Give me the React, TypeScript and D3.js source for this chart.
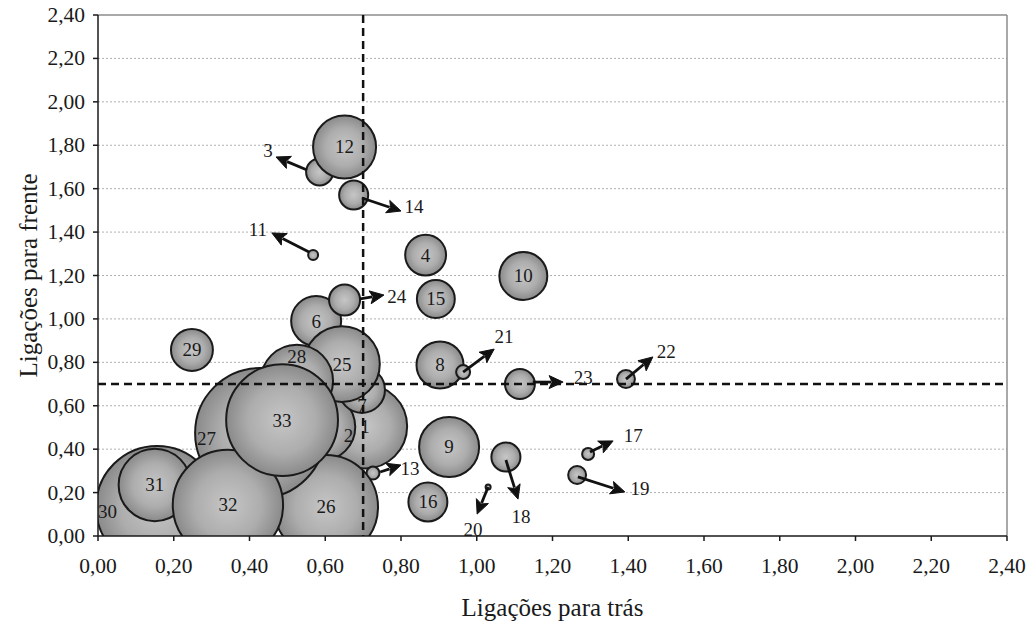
import React from 'react';
import * as d3 from 'd3';

// ---- data ----
const sectorIds = [1, 2, 3, 4, 6, 7, 8, 9, 10, 11, 12, 13, 14, 15, 16, 17, 18, 19, 20, 21, 22, 23, 24, 25, 26, 27, 28, 29, 30, 31, 32, 33];
const backwardLinks = [0.705, 0.590, 0.585, 0.865, 0.576, 0.697, 0.903, 0.927, 1.123, 0.568, 0.651, 0.726, 0.675, 0.892, 0.871, 1.294, 1.077, 1.265, 1.030, 0.964, 1.394, 1.114, 0.651, 0.644, 0.602, 0.428, 0.525, 0.248, 0.156, 0.150, 0.343, 0.486];
const forwardLinks = [0.505, 0.502, 1.677, 1.294, 0.990, 0.673, 0.788, 0.410, 1.198, 1.294, 1.792, 0.290, 1.571, 1.092, 0.157, 0.378, 0.364, 0.281, 0.226, 0.755, 0.723, 0.700, 1.087, 0.792, 0.134, 0.474, 0.714, 0.857, 0.134, 0.235, 0.143, 0.534];
const bubbleSizes = [4.2, 2.7, 0.43, 0.99, 1.48, 1.25, 1.31, 2.13, 1.36, 0.059, 2.35, 0.1, 0.5, 0.85, 0.9, 0.085, 0.5, 0.19, 0.015, 0.116, 0.19, 0.53, 0.57, 3.4, 6.4, 10.0, 3.1, 1.04, 8.8, 3.1, 7.2, 7.4];
// label placement on the bubble: c = centre, l = left, r = right, t = top, b = bottom, n = none (arrow label)
const labelPlacement = ['c', 'r', 'n', 'c', 'c', 'b', 'c', 'c', 'c', 'n', 'c', 'n', 'n', 'c', 'c', 'n', 'n', 'n', 'n', 'n', 'n', 'n', 'n', 'c', 'c', 'l', 't', 'c', 'l', 'c', 'c', 'c'];

// arrow annotations (data coordinates)
const arrowIds = [3, 11, 14, 24, 13, 21, 23, 22, 18, 20, 17, 19];
const arrowStartX = [0.552, 0.557, 0.697, 0.692, 0.745, 0.964, 1.148, 1.394, 1.077, 1.030, 1.299, 1.267];
const arrowStartY = [1.686, 1.308, 1.557, 1.092, 0.295, 0.755, 0.709, 0.723, 0.350, 0.226, 0.387, 0.272];
const arrowEndX = [0.470, 0.459, 0.800, 0.755, 0.800, 1.046, 1.228, 1.465, 1.109, 1.001, 1.360, 1.391];
const arrowEndY = [1.746, 1.396, 1.497, 1.110, 0.327, 0.861, 0.709, 0.825, 0.170, 0.101, 0.438, 0.203];
const arrowLabelX = [0.449, 0.422, 0.834, 0.789, 0.824, 1.072, 1.281, 1.500, 1.117, 0.990, 1.413, 1.431];
const arrowLabelY = [1.778, 1.414, 1.520, 1.101, 0.313, 0.917, 0.732, 0.848, 0.092, 0.028, 0.461, 0.221];

const xTicks = [0, 0.2, 0.4, 0.6, 0.8, 1.0, 1.2, 1.4, 1.6, 1.8, 2.0, 2.2, 2.4];
const yTicks = [0, 0.2, 0.4, 0.6, 0.8, 1.0, 1.2, 1.4, 1.6, 1.8, 2.0, 2.2, 2.4];
const thresholdBackward = 0.70;
const thresholdForward = 0.70;

const xTitle = 'Ligações para trás';
const yTitle = 'Ligações para frente';

// ---- layout ----
const W = 1033;
const H = 627;
const left = 98, right = 1007, top = 15, bottom = 536;
const FONT = '"Liberation Serif", "Times New Roman", serif';
const INK = '#1a1a1a';

const fmt = (v: number) => v.toFixed(2).replace('.', ',');

export default function App() {
  const x = d3.scaleLinear().domain([0, 2.4]).range([left, right]);
  const y = d3.scaleLinear().domain([0, 2.4]).range([bottom, top]);
  const r = d3.scaleSqrt().domain([0, 10]).range([0, 65]);

  const arrowPath = (x1: number, y1: number, x2: number, y2: number) => {
    const ang = Math.atan2(y2 - y1, x2 - x1);
    const len = 14, half = 6.5;
    const bx = x2 - len * Math.cos(ang), by = y2 - len * Math.sin(ang);
    const px = -Math.sin(ang) * half, py = Math.cos(ang) * half;
    return {
      line: { x1, y1, x2: bx + 2 * Math.cos(ang), y2: by + 2 * Math.sin(ang) },
      head: `M${x2},${y2}L${bx + px},${by + py}L${bx + 3 * Math.cos(ang)},${by + 3 * Math.sin(ang)}L${bx - px},${by - py}Z`,
    };
  };

  return (
    <svg width={W} height={H} style={{ position: 'absolute', left: 0, top: 0, background: '#fff' }} fontFamily={FONT}>
      <defs>
        <radialGradient id="bubbleGrad" cx="0.5" cy="0.5" r="0.5">
          <stop offset="0%" stopColor="#c6c6c6" />
          <stop offset="60%" stopColor="#adadad" />
          <stop offset="100%" stopColor="#8a8a8a" />
        </radialGradient>
        <clipPath id="plotClip">
          <rect x={left} y={top} width={right - left} height={bottom - top} />
        </clipPath>
      </defs>
      <rect width={W} height={H} fill="#fff" />

      {/* gridlines */}
      {yTicks.slice(1, -1).map((t) => (
        <line key={'g' + t} x1={left} x2={right} y1={y(t)} y2={y(t)} stroke="#b0b0b0" strokeWidth={1} strokeDasharray="2,2" />
      ))}
      {/* plot border top/right */}
      <line x1={left} x2={right} y1={top} y2={top} stroke="#8c8c8c" strokeWidth={1.5} />
      <line x1={right} x2={right} y1={top} y2={bottom} stroke="#8c8c8c" strokeWidth={1.5} />

      {/* bubbles */}
      <g clipPath="url(#plotClip)">
        {sectorIds.map((id, i) => (
          <circle key={'b' + id} cx={x(backwardLinks[i])} cy={y(forwardLinks[i])} r={r(bubbleSizes[i])}
            fill="url(#bubbleGrad)" stroke={INK} strokeWidth={2} />
        ))}
      </g>

      {/* bubble labels */}
      {sectorIds.map((id, i) => {
        const p = labelPlacement[i];
        if (p === 'n') return null;
        const cx = x(backwardLinks[i]);
        const cy = y(forwardLinks[i]);
        const rr = r(bubbleSizes[i]);
        let lx = cx, ly = cy, anchor = 'middle';
        if (p === 'l') { lx = cx - rr + 2; anchor = 'start'; ly = cy + 5; }
        if (p === 'r') { lx = cx + rr - 2; anchor = 'end'; ly = cy + 8; }
        if (p === 't') { ly = cy - rr + 12; }
        if (p === 'b') { ly = cy + rr - 7; }
        return (
          <text key={'l' + id} x={lx} y={ly} textAnchor={anchor} dominantBaseline="central" fontSize={19} fill={INK}>{id}</text>
        );
      })}

      {/* threshold lines */}
      <line x1={left} x2={right} y1={y(thresholdForward)} y2={y(thresholdForward)} stroke="#111" strokeWidth={2.5} strokeDasharray="8,5" />
      <line x1={x(thresholdBackward)} x2={x(thresholdBackward)} y1={top} y2={bottom} stroke="#111" strokeWidth={2.5} strokeDasharray="8,5" />

      {/* arrows */}
      {arrowIds.map((id, i) => {
        const a = arrowPath(x(arrowStartX[i]), y(arrowStartY[i]), x(arrowEndX[i]), y(arrowEndY[i]));
        return (
          <g key={'a' + id}>
            <line {...a.line} stroke="#111" strokeWidth={2.8} />
            <path d={a.head} fill="#111" stroke="#111" strokeWidth={1} strokeLinejoin="miter" />
            <text x={x(arrowLabelX[i])} y={y(arrowLabelY[i])} textAnchor="middle" dominantBaseline="central" fontSize={19} fill={INK}>{id}</text>
          </g>
        );
      })}

      {/* axes */}
      <line x1={left} x2={left} y1={top} y2={bottom} stroke={INK} strokeWidth={1.5} />
      <line x1={left} x2={right} y1={bottom} y2={bottom} stroke={INK} strokeWidth={1.5} />
      {yTicks.map((t) => (
        <g key={'yt' + t}>
          <line x1={left - 5} x2={left} y1={y(t)} y2={y(t)} stroke={INK} strokeWidth={1.5} />
          <text x={left - 13} y={y(t)} textAnchor="end" dominantBaseline="central" fontSize={21.5} fill={INK}>{fmt(t)}</text>
        </g>
      ))}
      {xTicks.map((t) => (
        <g key={'xt' + t}>
          <line x1={x(t)} x2={x(t)} y1={bottom} y2={bottom + 5} stroke={INK} strokeWidth={1.5} />
          <text x={x(t)} y={bottom + 30} textAnchor="middle" dominantBaseline="central" fontSize={21.5} fill={INK}>{fmt(t)}</text>
        </g>
      ))}

      <text x={(left + right) / 2} y={607} textAnchor="middle" dominantBaseline="central" fontSize={25} fill={INK}>{xTitle}</text>
      <text transform={`translate(28,${(top + bottom) / 2}) rotate(-90)`} textAnchor="middle" dominantBaseline="central" fontSize={25} fill={INK}>{yTitle}</text>
    </svg>
  );
}
